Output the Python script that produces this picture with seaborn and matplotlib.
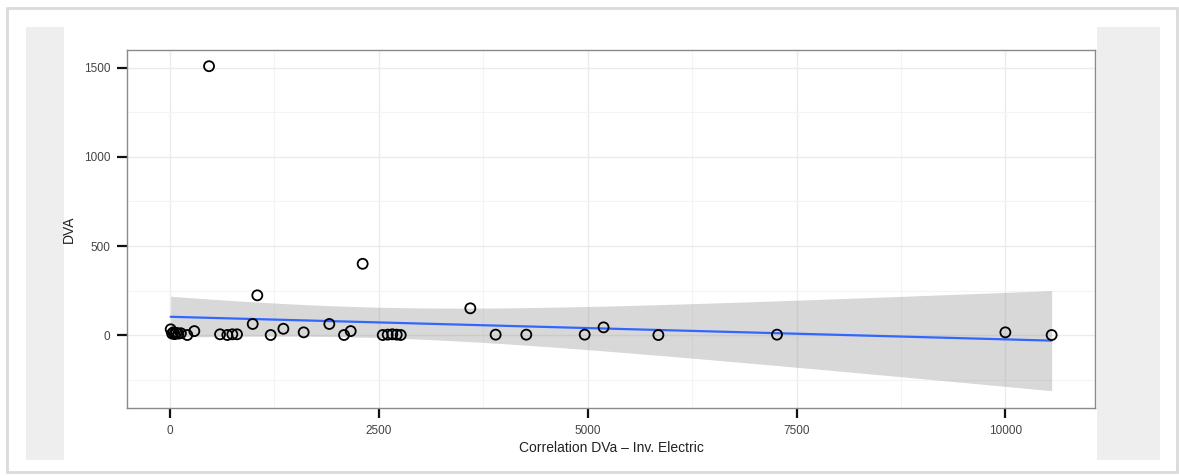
import numpy as np
import pandas as pd
import matplotlib
matplotlib.use("Agg")
import matplotlib.pyplot as plt
from matplotlib.patches import Rectangle
from matplotlib.ticker import MultipleLocator
import seaborn as sns

# ---- data ----
corr_x = [8, 25, 40, 55, 75, 100, 130, 207, 291,
          467,
          599, 686, 746, 802,
          990, 1045, 1205, 1357, 1600, 1907, 2083, 2163, 2306,
          2546, 2606, 2661, 2714, 2762,
          3595, 3898, 4265, 4964, 5190, 5846, 7266, 10000, 10554]
dva_y = [32, 8, 15, 5, 12, 8, 10, 0, 22,
         1510,
         4, 0, 4, 4,
         62, 223, 0, 35, 15, 62, 0, 22, 400,
         0, 2, 4, 2, 0,
         150, 2, 2, 2, 43, 0, 2, 15, 0]
x_ticks = [0, 2500, 5000, 7500, 10000]
y_ticks = [0, 500, 1000, 1500]
x_label = "Correlation DVa \u2013 Inv. Electric"
y_label = "DVA"

df = pd.DataFrame({"x": corr_x, "y": dva_y})

sns.set_theme(style="white")
plt.rcParams["font.family"] = ["Liberation Sans", "DejaVu Sans"]

W, H = 1179, 476
fig = plt.figure(figsize=(W / 100, H / 100), dpi=100)
fig.patch.set_facecolor("white")

# screenshot frame and grey side panels
def fr(x0, y0, x1, y1):
    return (x0 / W, 1 - y1 / H, (x1 - x0) / W, (y1 - y0) / H)

for (x0, y0, x1, y1), ec, fc, lw in [
    ((7, 8, 1177, 472), "#dadada", "white", 2.0),
    ((26, 27, 64, 460), "none", "#eeeeee", 0),
    ((1097, 27, 1160, 460), "none", "#eeeeee", 0),
]:
    a, b, w, h = fr(x0, y0, x1, y1)
    fig.patches.append(Rectangle((a, b), w, h, transform=fig.transFigure,
                                 facecolor=fc, edgecolor=ec, linewidth=lw, zorder=-5))

ax = fig.add_axes(fr(127, 50, 1095, 408))
ax.set_facecolor("white")

# analytic 95% confidence band of the linear fit
x = df["x"].to_numpy(float)
y = df["y"].to_numpy(float)
n = len(x)
b1, b0 = np.polyfit(x, y, 1)
resid = y - (b0 + b1 * x)
sigma = np.sqrt(np.sum(resid ** 2) / (n - 2))
xs = np.linspace(x.min(), x.max(), 200)
sxx = np.sum((x - x.mean()) ** 2)
se = sigma * np.sqrt(1 / n + (xs - x.mean()) ** 2 / sxx)
tq = 2.03  # t(0.975, 35)
fit = b0 + b1 * xs
ax.fill_between(xs, fit - tq * se, fit + tq * se, color="#999999", alpha=0.38,
                linewidth=0, zorder=2)

sns.regplot(data=df, x="x", y="y", ax=ax, ci=None, scatter=False,
            line_kws=dict(color="#3366FF", linewidth=1.6, zorder=3))
sns.scatterplot(data=df, x="x", y="y", ax=ax, marker="o", s=52,
                facecolor="none", edgecolor="black", linewidth=1.3, zorder=4)

ax.set_xlim(-515, 11073)
ax.set_ylim(-410, 1601)
ax.set_xticks(x_ticks)
ax.set_yticks(y_ticks)
ax.xaxis.set_minor_locator(MultipleLocator(1250))
ax.yaxis.set_minor_locator(MultipleLocator(250))
ax.grid(True, which="major", color="#ebebeb", linewidth=1.0)
ax.grid(True, which="minor", color="#f4f4f4", linewidth=0.8)
ax.set_axisbelow(True)
for s in ax.spines.values():
    s.set_color("#8a8a8a")
    s.set_linewidth(1.0)

ax.tick_params(axis="both", which="major", direction="out", length=7, width=1.6,
               color="#111111", labelsize=8.5, labelcolor="#444444", pad=5,
               bottom=True, left=True)
ax.tick_params(axis="both", which="minor", length=0)
ax.set_xlabel(x_label, fontsize=10, color="#222222", labelpad=3)
ax.set_ylabel(y_label, fontsize=10, color="#222222", labelpad=6)

fig.savefig("out.png", dpi=100)
